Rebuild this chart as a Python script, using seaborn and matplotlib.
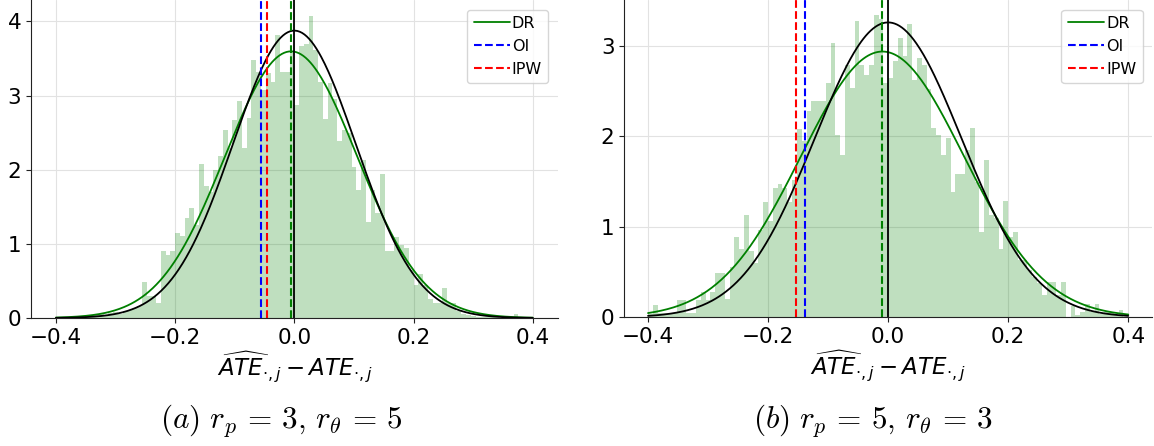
import numpy as np
import pandas as pd
import matplotlib
matplotlib.use("Agg")
import matplotlib.pyplot as plt
import seaborn as sns

# bin grid shared by both panels (100 bins on [-0.4, 0.4])
n_bins = 100
bin_range = (-0.4, 0.4)
edges = np.linspace(bin_range[0], bin_range[1], n_bins + 1)
centers = (edges[:-1] + edges[1:]) / 2

# density heights, panel (a)
dens_a = [0.0, 0.0, 0.0, 0.01, 0.02, 0.02, 0.03, 0.04, 0.05, 0.05,
          0.03, 0.07, 0.08, 0.06, 0.10, 0.11, 0.14, 0.16, 0.49, 0.30,
          0.30, 0.20, 0.90, 0.85, 0.90, 1.15, 1.10, 1.35, 1.49, 1.25,
          2.08, 1.78, 1.70, 2.00, 2.19, 2.54, 2.30, 2.67, 2.93, 2.29,
          2.70, 3.48, 3.32, 3.08, 3.30, 3.18, 3.82, 3.32, 3.32, 3.60,
          2.87, 3.67, 3.70, 4.07, 3.62, 3.18, 2.68, 3.17, 2.95, 2.39,
          2.54, 2.50, 2.04, 1.73, 2.13, 1.30, 1.73, 1.41, 1.94, 0.90,
          0.90, 1.09, 0.99, 0.94, 0.65, 0.45, 0.60, 0.45, 0.25, 0.20,
          0.20, 0.40, 0.20, 0.20, 0.09, 0.05, 0.04, 0.03, 0.02, 0.02,
          0.01, 0.01, 0.01, 0.0, 0.0, 0.0, 0.06, 0.0, 0.0, 0.0]

# panel (b)
dens_b = [0.04, 0.14, 0.05, 0.05, 0.05, 0.05, 0.19, 0.19, 0.05, 0.05,
          0.19, 0.28, 0.19, 0.28, 0.49, 0.49, 0.20, 0.56, 0.89, 0.75,
          1.13, 0.73, 0.60, 0.97, 1.28, 1.06, 1.43, 1.48, 1.43, 1.28,
          1.52, 2.08, 1.95, 2.28, 2.39, 2.39, 2.39, 2.59, 3.03, 2.02,
          1.79, 2.79, 2.54, 3.28, 2.79, 2.68, 2.79, 3.34, 3.30, 2.59,
          2.65, 2.83, 3.09, 2.89, 3.24, 2.63, 2.87, 2.79, 2.52, 2.09,
          2.02, 1.79, 1.98, 1.39, 1.59, 1.59, 1.85, 2.09, 1.50, 0.94,
          1.74, 1.13, 1.10, 0.75, 1.29, 0.89, 0.94, 0.63, 0.63, 0.52,
          0.45, 0.38, 0.25, 0.39, 0.39, 0.25, 0.39, 0.00, 0.12, 0.03,
          0.06, 0.15, 0.06, 0.15, 0.04, 0.06, 0.06, 0.03, 0.08, 0.00]

# fitted normal params (DR fit and reference) and mean estimates
dr_mean = [-0.0055, -0.0095]
dr_sd = [0.1109, 0.1357]
ref_sd = [0.1029, 0.1223]
oi_mean = [-0.056, -0.138]
ipw_mean = [-0.046, -0.153]
captions = [r"$(a)\ r_p\,=\,3,\, r_\theta\,=\,5$", r"$(b)\ r_p\,=\,5,\, r_\theta\,=\,3$"]
dens = [dens_a, dens_b]

sns.set_style("ticks", {"axes.edgecolor": "#222222", "xtick.color": "#222222",
                        "ytick.color": "#222222", "text.color": "black"})
plt.rcParams["font.family"] = ["DejaVu Sans"]

fig = plt.figure(figsize=(11.54, 4.46), dpi=100)
axes = [fig.add_axes([0.0269, 0.287, 0.4567, 0.713]),
        fig.add_axes([0.541, 0.2886, 0.4575, 0.7114])]
xlims = [(-0.4418, 0.4425), (-0.4395, 0.44)]
ylims = [(0, 4.29), (0, 3.51)]
cap_x = [0.2435, 0.7565]

def npdf(x, m, s):
    return np.exp(-0.5 * ((x - m) / s) ** 2) / (s * np.sqrt(2 * np.pi))

xs = np.linspace(-0.4, 0.4, 400)
for k, ax in enumerate(axes):
    df = pd.DataFrame({"x": centers, "w": dens[k]})
    sns.histplot(data=df, x="x", weights="w", bins=n_bins, binrange=bin_range,
                 color="green", alpha=0.25, linewidth=0, ax=ax)
    ax.plot(xs, npdf(xs, dr_mean[k], dr_sd[k]), color="green", lw=1.3, label="DR")
    ax.plot(xs, npdf(xs, 0, ref_sd[k]), color="black", lw=1.3)
    ax.axvline(oi_mean[k], color="blue", ls="--", lw=1.5, label="OI")
    ax.axvline(ipw_mean[k], color="red", ls="--", lw=1.5, label="IPW")
    ax.axvline(dr_mean[k], color="green", ls="--", lw=1.5)
    ax.axvline(0, color="black", lw=1.3)
    ax.set_xlim(*xlims[k])
    ax.set_ylim(*ylims[k])
    ax.set_xticks([-0.4, -0.2, 0.0, 0.2, 0.4])
    ax.set_yticks(range(0, 5) if k == 0 else range(0, 4))
    ax.grid(True, color="#e2e2e2", lw=0.8)
    ax.set_axisbelow(True)
    ax.tick_params(labelsize=15.5, length=3.5, labelcolor="black")
    ax.set_ylabel("")
    ax.set_xlabel(r"$\widehat{ATE}_{\cdot,j} - ATE_{\cdot,j}$", fontsize=16.5,
                  labelpad=1, color="black")
    sns.despine(ax=ax)
    ax.legend(loc="upper right", fontsize=11.5, handlelength=2.3,
              handletextpad=0.1, borderaxespad=0.6)
    fig.text(cap_x[k], 1 - 421 / 446, captions[k], ha="center", va="center",
             fontsize=22.5, math_fontfamily="cm")

fig.savefig("out.png", dpi=100)
